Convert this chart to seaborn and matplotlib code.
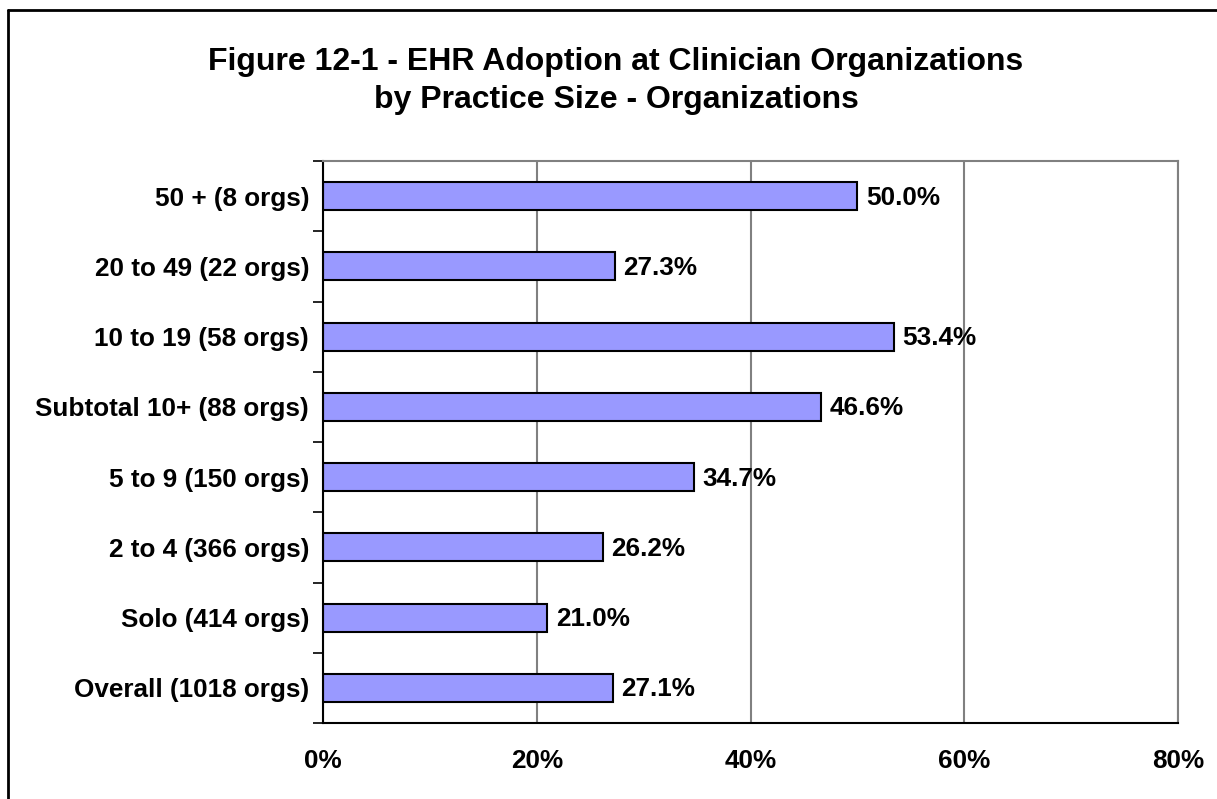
import numpy as np
import pandas as pd
import matplotlib
matplotlib.use('Agg')
import matplotlib.pyplot as plt
import matplotlib.ticker as mticker
from matplotlib.lines import Line2D
import seaborn as sns

# Chart data (top to bottom as shown)
categories = ['50 + (8 orgs)', '20 to 49 (22 orgs)', '10 to 19 (58 orgs)',
              'Subtotal 10+ (88 orgs)', '5 to 9 (150 orgs)', '2 to 4 (366 orgs)',
              'Solo (414 orgs)', 'Overall (1018 orgs)']
adoption_pct = [50.0, 27.3, 53.4, 46.6, 34.7, 26.2, 21.0, 27.1]
x_ticks = [0, 20, 40, 60, 80]
title = "Figure 12-1 - EHR Adoption at Clinician Organizations\nby Practice Size - Organizations"

df = pd.DataFrame({'group': categories, 'pct': adoption_pct})

sns.set_style('white')
plt.rcParams['font.family'] = ['Liberation Sans', 'DejaVu Sans']
plt.rcParams['font.weight'] = 'bold'
plt.rcParams['text.color'] = 'black'
plt.rcParams['xtick.labelcolor'] = 'black'
plt.rcParams['ytick.labelcolor'] = 'black'

fig = plt.figure(figsize=(12.17, 7.99), dpi=100)
ax = fig.add_axes([323 / 1217, 1 - 723 / 799, (1178 - 323) / 1217, (723 - 161) / 799])

sns.barplot(data=df, y='group', x='pct', orient='h', color='#9999FF',
            edgecolor='black', linewidth=1.5, width=0.4, saturation=1, ax=ax)

ax.set_xlim(0, 80)
ax.set_ylim(len(categories) - 0.5, -0.5)
ax.set_xticks(x_ticks)
ax.xaxis.set_major_formatter(mticker.FuncFormatter(lambda v, p: f"{v:.0f}%"))
ax.tick_params(axis='x', length=7, width=1.2, color='#555555', labelsize=18.8, pad=12)
ax.tick_params(axis='y', which='major', length=0, labelsize=18.8, pad=10)
ax.yaxis.set_minor_locator(mticker.FixedLocator(np.arange(-0.5, len(categories), 1.0)))
ax.tick_params(axis='y', which='minor', length=7, width=1.2, color='black', left=True)
for lbl in ax.get_xticklabels() + ax.get_yticklabels():
    lbl.set_fontweight('bold')
    lbl.set_color('black')
ax.set_xlabel('')
ax.set_ylabel('')

ax.grid(axis='x', color='#808080', linewidth=1.5)
ax.set_axisbelow(True)
for side in ['top', 'right']:
    ax.spines[side].set_color('#808080')
    ax.spines[side].set_linewidth(1.5)
for side in ['left', 'bottom']:
    ax.spines[side].set_color('black')
    ax.spines[side].set_linewidth(1.5)

# Value labels
for i, v in enumerate(adoption_pct):
    ax.text(v + 0.8, i + 0.02, f"{v:.1f}%", va='center', ha='left', fontsize=18.8,
            fontweight='bold', color='black')

fig.text(616 / 1217, 1 - 81 / 799, title, ha='center', va='center', fontsize=23,
         fontweight='bold', linespacing=1.35, color='black')

# Chart area border (left and top)
fig.add_artist(Line2D([7.5 / 1217, 1], [1 - 9.5 / 799] * 2, transform=fig.transFigure,
                      color='black', linewidth=2))
fig.add_artist(Line2D([7.5 / 1217] * 2, [0, 1 - 9.5 / 799], transform=fig.transFigure,
                      color='black', linewidth=2))

fig.savefig('out.png', dpi=100, facecolor='white')
